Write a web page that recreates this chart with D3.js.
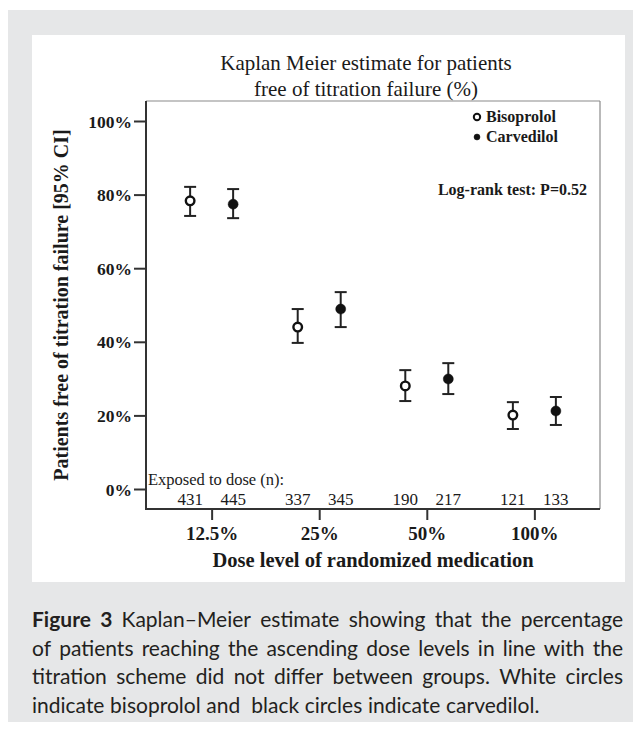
<!DOCTYPE html>
<html>
<head>
<meta charset="utf-8">
<script src="https://cdn.jsdelivr.net/npm/d3@7"></script>
<style>
  body { margin: 0; background: #fff; }
  svg { display: block; }
</style>
</head>
<body>
<div id="chart"></div>
<script>
// Datos
var doseLevels = ["12.5%", "25%", "50%", "100%"];
var seriesNames = ["Bisoprolol", "Carvedilol"];
var bisoEstimate = [78.3, 44.0, 28.0, 20.1];
var bisoLower = [74.2, 39.7, 23.9, 16.3];
var bisoUpper = [82.1, 48.9, 32.3, 23.6];
var carvEstimate = [77.4, 48.9, 29.9, 21.2];
var carvLower = [73.6, 44.0, 25.8, 17.4];
var carvUpper = [81.5, 53.5, 34.2, 25.0];
var bisoExposed = [431, 337, 190, 121];
var carvExposed = [445, 345, 217, 133];
var yTicks = [0, 20, 40, 60, 80, 100];

var captionLines = [
  [["Figure 3", true], ["Kaplan\u2013Meier estimate showing that the percentage", false]],
  [["of patients reaching the ascending dose levels in line with the", false]],
  [["titration scheme did not differ between groups. White circles", false]],
  [["indicate bisoprolol and\u00a0 black circles indicate carvedilol.", false]]
];

var width = 641, height = 732;
var serif = "'Liberation Serif', 'Times New Roman', serif";
var sans = "Lato, 'Open Sans', sans-serif";
var ink = "#1a1a1a";

var svg = d3.select("#chart").append("svg")
  .attr("width", width)
  .attr("height", height);

// fondo gris y panel blanco
svg.append("rect").attr("x", 8).attr("y", 10).attr("width", 625).attr("height", 712).attr("fill", "#e6e7e8");
svg.append("rect").attr("x", 32).attr("y", 35).attr("width", 593).attr("height", 547).attr("fill", "#fff");

// Escalas
var frame = {left: 146, right: 600, top: 101, bottom: 509};
var x = d3.scalePoint().domain(doseLevels).range([frame.left, frame.right]).padding(0.61);
var xs = d3.scalePoint().domain(seriesNames).range([-21.5, 21.5]);
var y = d3.scaleLinear().domain([0, 100]).range([489, 121]);

// Titulo
var title = svg.append("text")
  .attr("text-anchor", "middle")
  .style("font-family", serif).style("font-size", "21px").attr("fill", ink);
title.append("tspan").attr("x", 366).attr("y", 70).text("Kaplan Meier estimate for patients");
title.append("tspan").attr("x", 366).attr("y", 96).text("free of titration failure (%)");

// marco (lineas grises arriba y derecha)
svg.append("line").attr("x1", frame.left).attr("x2", frame.right).attr("y1", frame.top).attr("y2", frame.top)
  .attr("stroke", "#8a8a8a").attr("stroke-width", 1.2);
svg.append("line").attr("x1", frame.right).attr("x2", frame.right).attr("y1", frame.top).attr("y2", frame.bottom)
  .attr("stroke", "#8a8a8a").attr("stroke-width", 1.2);

// Eje Y
var yAxis = svg.append("g")
  .attr("transform", "translate(" + frame.left + ",0)")
  .call(d3.axisLeft(y).tickValues(yTicks).tickSize(12).tickPadding(2).tickFormat(function(d){ return d + "%"; }));
yAxis.select(".domain").remove();
yAxis.selectAll(".tick line").attr("stroke", "#333").attr("stroke-width", 2);
yAxis.selectAll(".tick text").style("font-family", serif).style("font-size", "17.5px")
  .style("font-weight", "bold").attr("fill", ink).attr("dy", "0.35em");
svg.append("line").attr("x1", frame.left).attr("x2", frame.left).attr("y1", frame.top).attr("y2", frame.bottom + 1)
  .attr("stroke", "#333").attr("stroke-width", 2);

// Eje X
var xAxis = svg.append("g")
  .attr("transform", "translate(0," + frame.bottom + ")")
  .call(d3.axisBottom(x).tickSize(11).tickPadding(7));
xAxis.select(".domain").remove();
xAxis.selectAll(".tick line").attr("stroke", "#333").attr("stroke-width", 2);
xAxis.selectAll(".tick text").style("font-family", serif).style("font-size", "19px")
  .style("font-weight", "bold").attr("fill", ink);
svg.append("line").attr("x1", frame.left - 1).attr("x2", frame.right).attr("y1", frame.bottom).attr("y2", frame.bottom)
  .attr("stroke", "#333").attr("stroke-width", 2);

// titulos de ejes
svg.append("text")
  .attr("x", (frame.left + frame.right) / 2).attr("y", 567)
  .attr("text-anchor", "middle")
  .style("font-family", serif).style("font-size", "20.5px").style("font-weight", "bold")
  .attr("fill", ink).text("Dose level of randomized medication");

svg.append("text")
  .attr("transform", "translate(68," + (frame.top + frame.bottom) / 2 + ") rotate(-90)")
  .attr("text-anchor", "middle")
  .style("font-family", serif).style("font-size", "20px").style("font-weight", "bold")
  .attr("fill", ink).text("Patients free of titration failure [95% CI]");

// Puntos con intervalos
var series = [
  {name: "Bisoprolol", est: bisoEstimate, lo: bisoLower, hi: bisoUpper, n: bisoExposed, open: true},
  {name: "Carvedilol", est: carvEstimate, lo: carvLower, hi: carvUpper, n: carvExposed, open: false}
];

series.forEach(function(s) {
  var pts = doseLevels.map(function(d, i) {
    return {dose: d, est: s.est[i], lo: s.lo[i], hi: s.hi[i], n: s.n[i]};
  });
  var g = svg.append("g");
  var cx = function(d) { return x(d.dose) + xs(s.name); };

  g.selectAll(".ci").data(pts).enter().append("line")
    .attr("x1", cx).attr("x2", cx)
    .attr("y1", function(d){ return y(d.lo); }).attr("y2", function(d){ return y(d.hi); })
    .attr("stroke", "#222").attr("stroke-width", 2);
  ["lo", "hi"].forEach(function(k) {
    g.selectAll(".cap" + k).data(pts).enter().append("line")
      .attr("x1", function(d){ return cx(d) - 6; }).attr("x2", function(d){ return cx(d) + 6; })
      .attr("y1", function(d){ return y(d[k]); }).attr("y2", function(d){ return y(d[k]); })
      .attr("stroke", "#222").attr("stroke-width", 2);
  });
  g.selectAll("circle").data(pts).enter().append("circle")
    .attr("cx", cx).attr("cy", function(d){ return y(d.est); })
    .attr("r", s.open ? 4.3 : 5)
    .attr("fill", s.open ? "#fff" : "#111")
    .attr("stroke", "#111").attr("stroke-width", s.open ? 2.4 : 0.5);

  // numeros expuestos
  g.selectAll(".n").data(pts).enter().append("text")
    .attr("x", cx).attr("y", 505)
    .attr("text-anchor", "middle")
    .style("font-family", serif).style("font-size", "17px")
    .attr("fill", ink).text(function(d){ return d.n; });
});

svg.append("text")
  .attr("x", frame.left + 2).attr("y", 485)
  .style("font-family", serif).style("font-size", "16.5px")
  .attr("fill", ink).text("Exposed to dose (n):");

// Leyenda
var legend = svg.append("g");
series.forEach(function(s, i) {
  var ly = 117 + i * 20;
  legend.append("circle").attr("cx", 477).attr("cy", ly)
    .attr("r", s.open ? 3.2 : 3)
    .attr("fill", s.open ? "#fff" : "#111").attr("stroke", "#111").attr("stroke-width", s.open ? 2 : 0.5);
  legend.append("text").attr("x", 486).attr("y", ly + 5)
    .style("font-family", serif).style("font-size", "16px").style("font-weight", "bold")
    .attr("fill", ink).text(s.name);
});

svg.append("text")
  .attr("x", 587).attr("y", 195).attr("text-anchor", "end")
  .style("font-family", serif).style("font-size", "16px").style("font-weight", "bold")
  .attr("fill", ink).text("Log-rank test: P=0.52");

// Pie de figura justificado
var capLeft = 32, capRight = 623, capSize = 21;
captionLines.forEach(function(line, li) {
  var by = 627 + li * 28.5;
  var words = [];
  line.forEach(function(part) {
    part[0].split(" ").forEach(function(w) { words.push({t: w, b: part[1]}); });
  });
  var tg = svg.append("g");
  var nodes = words.map(function(w) {
    return tg.append("text").attr("y", by)
      .style("font-family", sans).style("font-size", capSize + "px")
      .style("font-weight", w.b ? "bold" : "normal")
      .attr("fill", "#231f20").text(w.t);
  });
  var widths = nodes.map(function(n){ return n.node().getComputedTextLength(); });
  var total = d3.sum(widths);
  var last = li === captionLines.length - 1;
  var gap = last ? capSize * 0.27 : (capRight - capLeft - total) / (words.length - 1);
  var cur = capLeft;
  nodes.forEach(function(n, i) {
    n.attr("x", cur);
    cur += widths[i] + gap;
  });
});
</script>
</body>
</html>
